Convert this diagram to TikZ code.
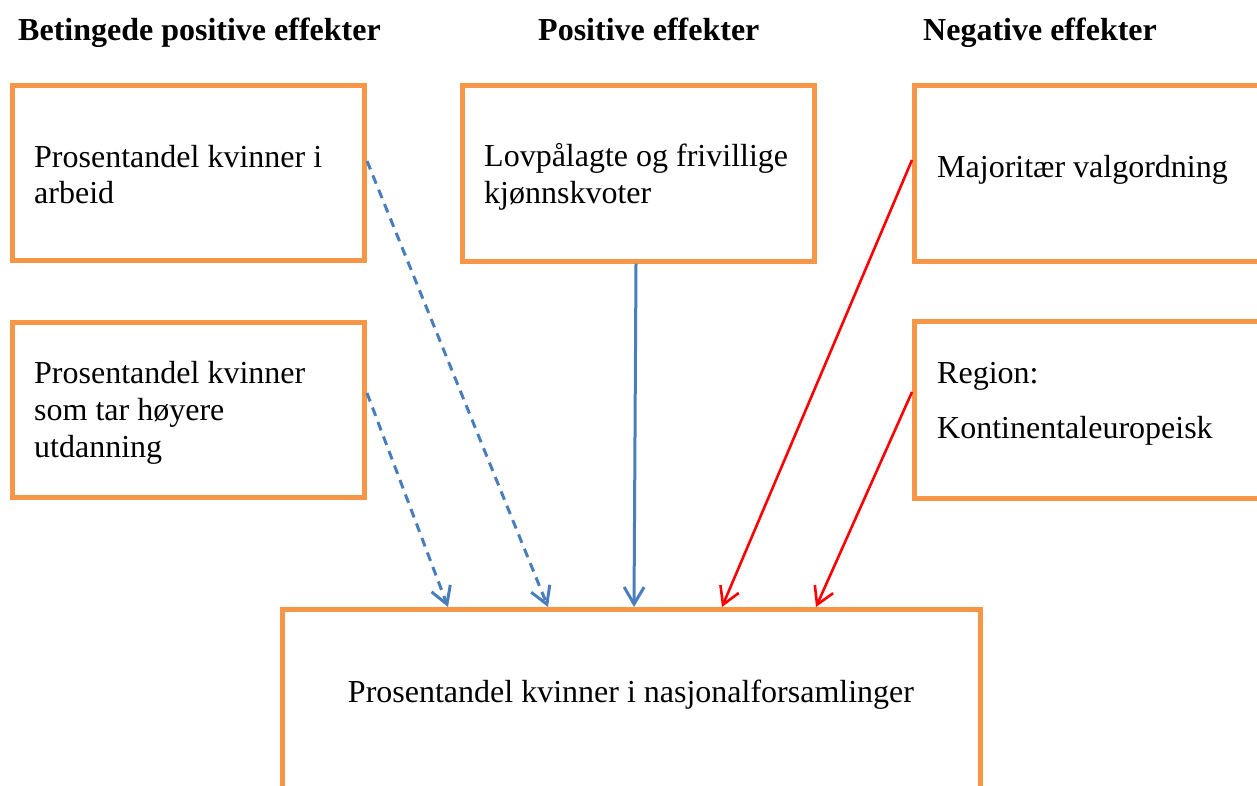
\documentclass[tikz,border=0pt]{standalone}
\usepackage{fontspec}
\setmainfont{Liberation Serif}
\usetikzlibrary{arrows.meta}
\definecolor{boxorange}{HTML}{F79646}
\definecolor{linkblue}{HTML}{4A7EBB}
\definecolor{linkred}{HTML}{FF0000}
\begin{document}
\begin{tikzpicture}[x=1pt,y=-1pt,
  box/.style={draw=boxorange, line width=5pt, rectangle, inner sep=0pt},
  txt/.style={anchor=base west, inner sep=0pt, font=\fontsize{32}{37}\selectfont},
  head/.style={anchor=base west, inner sep=0pt, font=\fontsize{32}{37}\selectfont\bfseries},
  barb/.style={-{Straight Barb[length=17pt,width=20pt]}},
  posdash/.style={barb, draw=linkblue, line width=3pt, dash pattern=on 9pt off 6.5pt},
  possolid/.style={barb, draw=linkblue, line width=3pt},
  negline/.style={barb, draw=linkred, line width=2.6pt}
]
\useasboundingbox (0,0) rectangle (1257,785);
\clip (0,0) rectangle (1257,785);

% headers
\node[head] (h1) at (18,40) {Betingede positive effekter};
\node[head] (h2) at (538,40) {Positive effekter};
\node[head] (h3) at (923,40) {Negative effekter};

% boxes
\node[box, minimum width=352.5pt, minimum height=175pt] (b1) at (188.25,173) {};
\node[box, minimum width=352.5pt, minimum height=175pt] (b2) at (188.25,410) {};
\node[box, minimum width=352pt, minimum height=175.5pt] (b3) at (638.5,173.25) {};
\node[box, minimum width=355.5pt, minimum height=176pt] (b4) at (1092.25,173.5) {};
\node[box, minimum width=355.5pt, minimum height=176.5pt] (b5) at (1092.25,409.75) {};
\node[box, minimum width=698pt, minimum height=190.5pt] (b6) at (631,704.75) {};

% texts
\node[txt] (t1a) at (34,167) {Prosentandel kvinner i};
\node[txt] (t1b) at (34,203) {arbeid};
\node[txt] (t2a) at (34,383) {Prosentandel kvinner};
\node[txt] (t2b) at (34,420) {som tar høyere};
\node[txt] (t2c) at (34,457) {utdanning};
\node[txt] (t3a) at (484,166) {Lovpålagte og frivillige};
\node[txt] (t3b) at (484,203) {kjønnskvoter};
\node[txt] (t4a) at (937,177) {Majoritær valgordning};
\node[txt] (t5a) at (937,383) {Region:};
\node[txt] (t5b) at (937,438) {Kontinentaleuropeisk};
\node[txt, anchor=base] (t6) at (631,702) {Prosentandel kvinner i nasjonalforsamlinger};

% connectors
\draw[posdash] ([yshift=12pt]b1.east) -- ([xshift=-83pt]b6.north);
\draw[posdash] ([yshift=17pt]b2.east) -- ([xshift=-183pt]b6.north);
\draw[possolid] ([xshift=-2.5pt]b3.south) -- ([xshift=3pt]b6.north);
\draw[negline] ([yshift=13.5pt]b4.west) -- ([xshift=91pt]b6.north);
\draw[negline] ([yshift=17.75pt]b5.west) -- ([xshift=185pt]b6.north);
\end{tikzpicture}
\end{document}
